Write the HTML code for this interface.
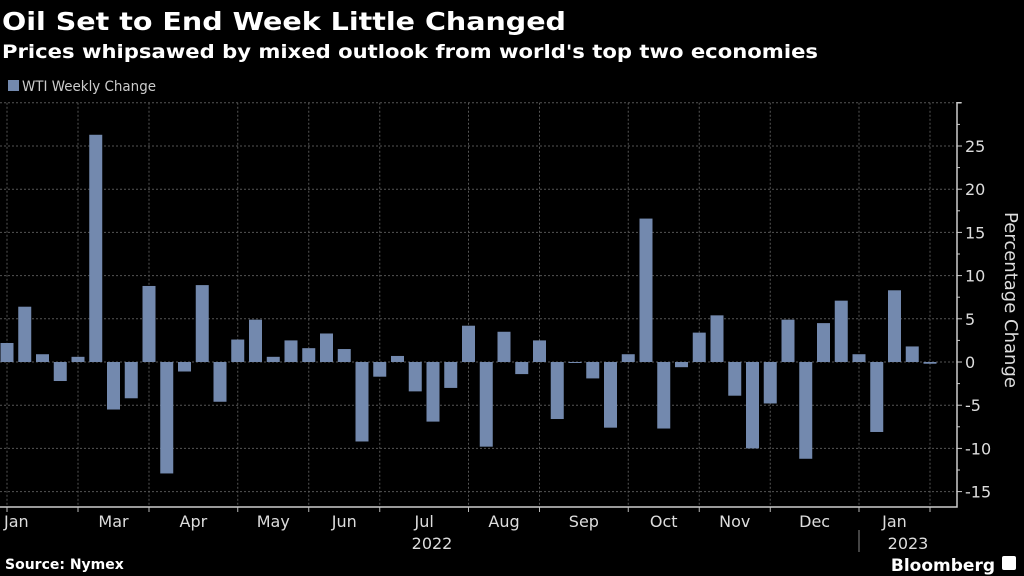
<!DOCTYPE html>
<html><head><meta charset="utf-8"><style>
body{margin:0;background:#000;width:1024px;height:576px;overflow:hidden}
svg{display:block}
text{font-family:"DejaVu Sans","Liberation Sans",sans-serif}
</style></head><body>
<svg id="c" width="1024" height="576">
<text x="2" y="30" font-size="25" font-weight="bold" fill="#fff" textLength="564" lengthAdjust="spacingAndGlyphs">Oil Set to End Week Little Changed</text>
<text x="2" y="58" font-size="19" font-weight="bold" fill="#fff" textLength="816" lengthAdjust="spacingAndGlyphs">Prices whipsawed by mixed outlook from world's top two economies</text>
<rect x="8" y="80" width="11" height="11" fill="#7389ae"/>
<text x="22" y="91" font-size="14" fill="#ccc" textLength="134" lengthAdjust="spacingAndGlyphs">WTI Weekly Change</text>
<g id="grid"></g><g id="bars"></g><g id="axes"></g>
<text transform="translate(1005,300) rotate(90)" text-anchor="middle" font-size="18" fill="#ddd">Percentage Change</text>
<text x="432" y="549" text-anchor="middle" font-size="16" fill="#ddd">2022</text>
<line x1="859" y1="530" x2="859" y2="552" stroke="#888"/>
<text x="908" y="549" text-anchor="middle" font-size="16" fill="#ddd">2023</text>
<text x="5" y="569" font-size="14" font-weight="bold" fill="#fff">Source: Nymex</text>
<text x="995" y="571" text-anchor="end" font-size="17" font-weight="bold" fill="#fff">Bloomberg</text>
<rect x="1002" y="556" width="14" height="14" rx="2" fill="#fff"/>
</svg>
<script>
const values=[2.2,6.4,0.9,-2.2,0.6,26.3,-5.5,-4.2,8.8,-12.9,-1.1,8.9,-4.6,2.6,4.9,0.6,2.5,1.6,3.3,1.5,-9.2,-1.7,0.7,-3.4,-6.9,-3.0,4.2,-9.8,3.5,-1.4,2.5,-6.6,-0.1,-1.9,-7.6,0.9,16.6,-7.7,-0.6,3.4,5.4,-3.9,-10.0,-4.8,4.9,-11.2,4.5,7.1,0.9,-8.1,8.3,1.8,-0.2];
const yTicks=[25,20,15,10,5,0,-5,-10,-15];
const monthBreaks=[0,4,8,13,17,21,26,30,35,39,43,48,52];
const monthLabels=["Mar","Apr","May","Jun","Jul","Aug","Sep","Oct","Nov","Dec","Jan"];
const NS="http://www.w3.org/2000/svg";
const x=i=>7+i*17.75;
const y=v=>362-v*8.64;
const X0=0,X1=957,YT=y(30),YB=507;
function mk(tag,attrs,parent){const e=document.createElementNS(NS,tag);for(const k in attrs)e.setAttribute(k,attrs[k]);document.getElementById(parent).appendChild(e);return e;}
// horizontal gridlines
[30,...yTicks].forEach(v=>{
  const l=mk('line',{x1:X0,x2:X1,y1:y(v),y2:y(v),stroke:'#555','stroke-dasharray':'2,2'},'grid');
  
  
});
monthBreaks.forEach(i=>{
  const l=mk('line',{x1:x(i),x2:x(i),y1:YT,y2:YB,stroke:'#555','stroke-dasharray':'2,2'},'grid');
  
  
  const t=mk('line',{x1:x(i),x2:x(i),y1:YB,y2:YB+5,stroke:'#bbb'},'axes');
  
  
});
values.forEach((v,i)=>{
  const r=mk('rect',{x:x(i)-6.5,width:13,y:Math.min(y(v),y(0)),height:Math.max(Math.abs(y(v)-y(0)),1),fill:'#7389ae'},'bars');
  
  
});
const ax=mk('path',{d:`M${X0} ${YB}H${X1}V${YT}h4`,stroke:'#ccc','stroke-width':1.5,fill:'none'},'axes');


for(let v=-15;v<=30;v+=2.5){
  const big=v%5===0;
  const t=mk('line',{x1:X1,x2:X1+(big?5:3),y1:y(v),y2:y(v),stroke:'#ccc'},'axes');
  
  
}
yTicks.forEach(v=>{
  const t=mk('text',{x:965,y:y(v)+6,'font-size':16,fill:'#ddd'},'axes');
  t.textContent=v<0?'-'+Math.abs(v):String(v);
  
  
});
const j=mk('text',{x:4,y:527,'font-size':16,fill:'#ddd'},'axes');
j.textContent='Jan';


monthLabels.forEach((m,k)=>{
  const t=mk('text',{x:(x(monthBreaks[k+1])+x(monthBreaks[k+2]))/2,y:527,'font-size':16,fill:'#ddd','text-anchor':'middle'},'axes');
  t.textContent=m;
  
  
});
</script>
</body></html>
